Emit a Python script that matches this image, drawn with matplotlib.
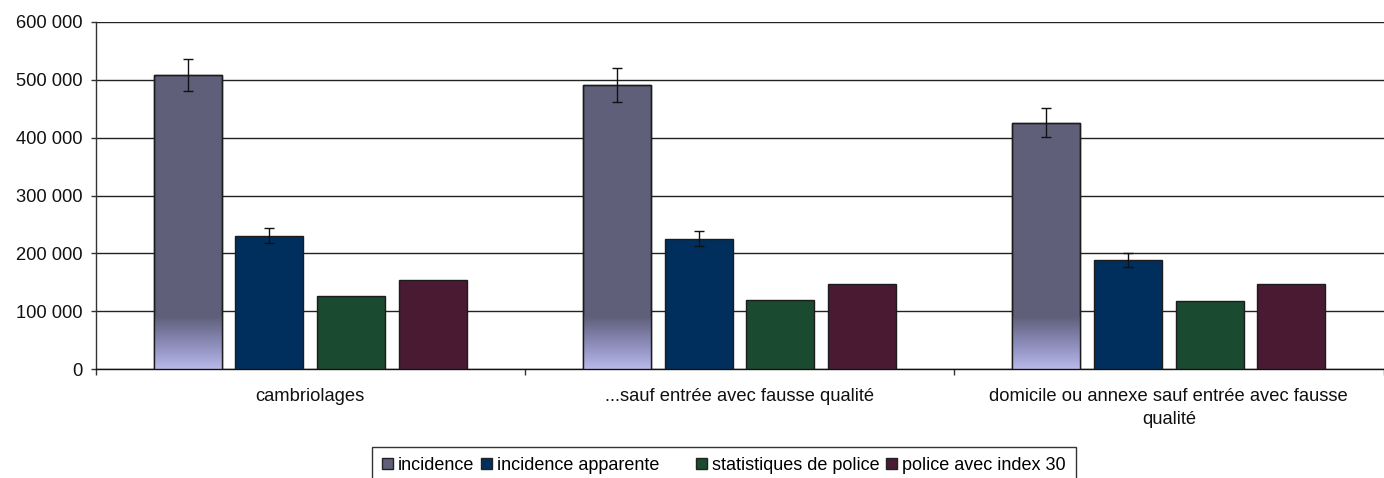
import numpy as np
import matplotlib
matplotlib.use("Agg")
import matplotlib.pyplot as plt
from matplotlib.patches import Patch
from matplotlib.colors import LinearSegmentedColormap
from matplotlib.ticker import FuncFormatter, FixedLocator

plt.rcParams["font.family"] = ["Liberation Sans", "DejaVu Sans"]

categories = [
    "cambriolages",
    "...sauf entrée avec fausse qualité",
    "domicile ou annexe sauf entrée avec fausse\nqualité",
]
series_names = ["incidence", "incidence apparente", "statistiques de police", "police avec index 30"]
incidence = [509000, 491000, 426000]
incidence_err = [27500, 29000, 25500]
apparente = [230500, 225500, 188500]
apparente_err = [13000, 13000, 11500]
police = [126500, 118500, 117500]
police_index30 = [154000, 147000, 147500]
yticks = [0, 100000, 200000, 300000, 400000, 500000, 600000]

values = [incidence, apparente, police, police_index30]
errors = [incidence_err, apparente_err, None, None]
colors = ["#5f5f7a", "#002f5e", "#1a4a2f", "#4a1a33"]
fs = 13.2

fig = plt.figure(figsize=(13.84, 4.78), dpi=100)
ax = fig.add_axes([95.5 / 1384, 1 - 369 / 478, 1 - 95.5 / 1384 - 0.5 / 1384, (369 - 22) / 478])

x = np.arange(len(categories)) + 0.5
pitch = 82 / 431
width = 68 / 431
edge = "#1c1c1c"

grad_cmap = LinearSegmentedColormap.from_list("grad", ["#b8b8ea", "#8a8ab8", "#5f5f7a"])
grad = np.linspace(0, 1, 100).reshape(-1, 1)

for k, (vals, err, col) in enumerate(zip(values, errors, colors)):
    xpos = x + (k - 1.5) * pitch
    bars = ax.bar(xpos, vals, width=width, color=col, edgecolor=edge, linewidth=1.0, zorder=3)
    if k == 0:
        # light gradient at the foot of the first series
        for b in bars:
            x0 = b.get_x()
            ax.imshow(grad, extent=[x0, x0 + b.get_width(), 0, 90000], origin="lower",
                      aspect="auto", cmap=grad_cmap, zorder=3.5, interpolation="bilinear")
        ax.bar(xpos, vals, width=width, color="none", edgecolor=edge, linewidth=1.0, zorder=4)
    if err is not None:
        ax.errorbar(xpos, vals, yerr=err, fmt="none", ecolor="#111111", elinewidth=1.0,
                    capsize=3.3, capthick=1.0, zorder=5)

ax.set_xlim(0, 3)
ax.set_ylim(0, 600000)
ax.set_yticks(yticks)
ax.yaxis.set_major_formatter(FuncFormatter(lambda v, p: f"{int(v):,}".replace(",", " ")))
ax.grid(axis="y", color="#222222", linewidth=1.0, zorder=0)
ax.set_axisbelow(True)

ax.xaxis.set_major_locator(FixedLocator([0, 1, 2, 3]))
ax.xaxis.set_major_formatter(FuncFormatter(lambda v, p: ""))
ax.set_xticks(x, minor=True)
ax.set_xticklabels(categories, minor=True, fontsize=fs, color="#111111")
for t in ax.get_xticklabels(minor=True):
    t.set_linespacing(1.45)
ax.tick_params(axis="x", which="minor", length=0, pad=13.5)
ax.tick_params(axis="x", which="major", length=4, width=1, color="#333333")
ax.tick_params(axis="y", length=3.6, width=1, color="#333333", labelsize=fs, labelcolor="#111111", pad=5.5)

for s in ["top", "right"]:
    ax.spines[s].set_visible(False)
ax.spines["left"].set_color("#333333")
ax.spines["bottom"].set_color("#111111")
ax.spines["left"].set_linewidth(1.0)
ax.spines["bottom"].set_linewidth(1.0)

handles = [Patch(facecolor=c, edgecolor="#222222", linewidth=1.0) for c in colors]
labels = list(series_names)
labels[1] = labels[1] + "      "
leg = fig.legend(handles, labels, loc="upper left", bbox_to_anchor=(372 / 1384, 1 - 447 / 478),
                 ncol=4, fontsize=13, frameon=True, fancybox=False, handlelength=0.6,
                 handleheight=0.6, handletextpad=0.3, columnspacing=0.35, borderpad=0.55,
                 borderaxespad=0)
leg.get_frame().set_edgecolor("#000000")
leg.get_frame().set_linewidth(1.0)

fig.savefig("out.png", dpi=100)
